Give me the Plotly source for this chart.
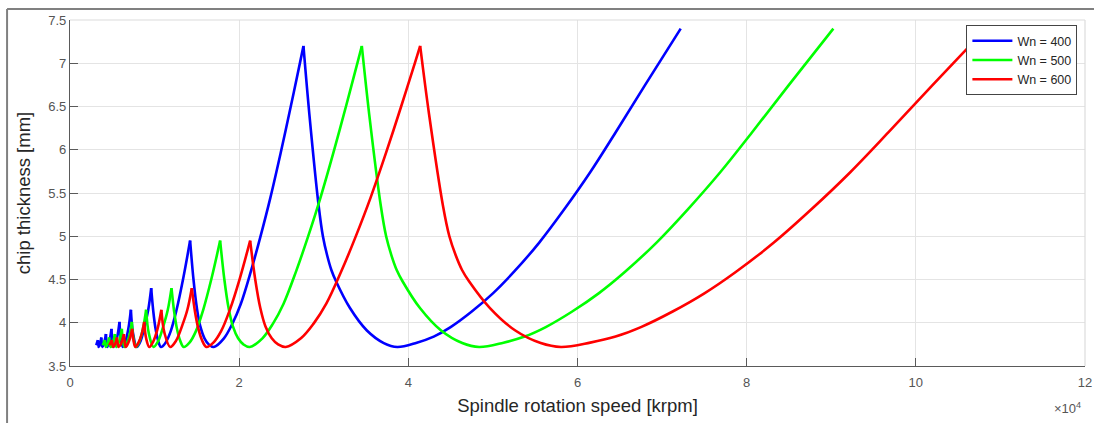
import plotly.graph_objects as go

# ---------------- data ----------------
# spindle speed in units of 10^4 rpm, chip thickness in mm
# each inner list is one stability lobe (cusp -> minimum -> cusp)
series_names = ["Wn = 400", "Wn = 500", "Wn = 600"]
series_colors = ["#0000FF", "#00FF00", "#FF0000"]

blue_speed = [
    [0.31, 0.33],
    [0.33, 0.335, 0.34, 0.355, 0.37],
    [0.37, 0.376, 0.383, 0.40, 0.425],
    [0.425, 0.432, 0.44, 0.46, 0.475, 0.49],
    [0.49, 0.50, 0.515, 0.54, 0.565, 0.585],
    [0.585, 0.60, 0.625, 0.655, 0.69, 0.72],
    [0.72, 0.745, 0.79, 0.835, 0.885, 0.925, 0.96],
    [0.96, 0.985, 1.01, 1.04, 1.075, 1.13, 1.19, 1.26, 1.34, 1.42],
    [1.42, 1.46, 1.50, 1.54, 1.59, 1.64, 1.70, 1.82, 1.92, 2.02, 2.14, 2.25, 2.37, 2.49, 2.61,
     2.72, 2.76],
    [2.76, 2.83, 2.94, 2.99, 3.04, 3.09, 3.145, 3.31, 3.51, 3.71, 3.87, 4.10, 4.30, 4.50, 4.75,
     5.00, 5.25, 5.55, 5.85, 6.15, 6.45, 6.80, 7.22],
]
green_speed = [
    [0.3875, 0.4125],
    [0.4125, 0.41875, 0.425, 0.44375, 0.4625],
    [0.4625, 0.47, 0.47875, 0.50, 0.53125],
    [0.53125, 0.54, 0.55, 0.575, 0.59375, 0.6125],
    [0.6125, 0.625, 0.64375, 0.675, 0.70625, 0.73125],
    [0.73125, 0.75, 0.78125, 0.81875, 0.8625, 0.90],
    [0.90, 0.93125, 0.9875, 1.04375, 1.10625, 1.15625, 1.20],
    [1.20, 1.23125, 1.2625, 1.30, 1.34375, 1.4125, 1.4875, 1.575, 1.675, 1.775],
    [1.775, 1.825, 1.875, 1.925, 1.9875, 2.05, 2.125, 2.275, 2.40, 2.525, 2.675, 2.8125, 2.9625,
     3.1125, 3.2625, 3.40, 3.45],
    [3.45, 3.5375, 3.675, 3.7375, 3.80, 3.8625, 3.93125, 4.1375, 4.3875, 4.6375, 4.8375, 5.125,
     5.375, 5.625, 5.9375, 6.25, 6.5625, 6.9375, 7.3125, 7.6875, 8.0625, 8.50, 9.025],
]
red_speed = [
    [0.465, 0.495],
    [0.495, 0.5025, 0.51, 0.5325, 0.555],
    [0.555, 0.564, 0.5745, 0.60, 0.6375],
    [0.6375, 0.648, 0.66, 0.69, 0.7125, 0.735],
    [0.735, 0.75, 0.7725, 0.81, 0.8475, 0.8775],
    [0.8775, 0.90, 0.9375, 0.9825, 1.035, 1.08],
    [1.08, 1.1175, 1.185, 1.2525, 1.3275, 1.3875, 1.44],
    [1.44, 1.4775, 1.515, 1.56, 1.6125, 1.695, 1.785, 1.89, 2.01, 2.13],
    [2.13, 2.19, 2.25, 2.31, 2.385, 2.46, 2.55, 2.73, 2.88, 3.03, 3.21, 3.375, 3.555, 3.735,
     3.915, 4.08, 4.14],
    [4.14, 4.245, 4.41, 4.485, 4.56, 4.635, 4.7175, 4.965, 5.265, 5.565, 5.805, 6.15, 6.45, 6.75,
     7.125, 7.50, 7.875, 8.325, 8.775, 9.225, 9.675, 10.20, 10.83],
]
# chip thickness along each lobe (the other two trace the same levels)
blue_thick = [
    [3.74, 3.80],
    [3.80, 3.75, 3.72, 3.75, 3.83],
    [3.83, 3.76, 3.72, 3.75, 3.87],
    [3.87, 3.77, 3.72, 3.77, 3.83, 3.93],
    [3.93, 3.80, 3.72, 3.77, 3.87, 4.01],
    [4.01, 3.82, 3.72, 3.78, 3.93, 4.15],
    [4.15, 3.88, 3.72, 3.79, 3.97, 4.15, 4.40],
    [4.40, 4.13, 3.94, 3.80, 3.72, 3.77, 3.90, 4.15, 4.52, 4.95],
    [4.95, 4.50, 4.17, 3.96, 3.82, 3.75, 3.72, 3.82, 3.99, 4.22, 4.60, 4.99, 5.45, 5.96, 6.50,
     7.01, 7.20],
    [7.20, 6.41, 5.35, 5.00, 4.78, 4.61, 4.48, 4.17, 3.91, 3.765, 3.72, 3.77, 3.84, 3.95, 4.13,
     4.34, 4.59, 4.93, 5.32, 5.74, 6.20, 6.75, 7.40],
]
green_thick = [list(l) for l in blue_thick]
red_thick = [list(l) for l in blue_thick]

x_tick_vals = [0, 2, 4, 6, 8, 10, 12]
x_tick_text = ["0", "2", "4", "6", "8", "10", "12"]
y_tick_vals = [3.5, 4, 4.5, 5, 5.5, 6, 6.5, 7, 7.5]
y_tick_text = ["3.5", "4", "4.5", "5", "5.5", "6", "6.5", "7", "7.5"]


def join(lobes):
    out = []
    for i, seg in enumerate(lobes):
        if i:
            out.append(None)
        out.extend(seg)
    return out


FONT = "Liberation Sans, Arial, Helvetica, sans-serif"
fig = go.Figure()
for name, col, xs, ys in zip(series_names, series_colors,
                             [blue_speed, green_speed, red_speed],
                             [blue_thick, green_thick, red_thick]):
    fig.add_trace(go.Scatter(
        x=join(xs), y=join(ys), mode="lines", name=name,
        line=dict(color=col, width=2.6, shape="spline", smoothing=1.0),
        connectgaps=False,
    ))

axis_common = dict(
    showgrid=True, gridcolor="#e4e4e4", gridwidth=1,
    showline=True, linecolor="#5a5a5a", linewidth=1.3,
    ticks="inside", ticklen=8, tickcolor="#5a5a5a", tickwidth=1.2,
    zeroline=False, tickfont=dict(family=FONT, size=13, color="#555555"),
)
fig.update_layout(
    width=1094, height=423,
    margin=dict(l=70, r=9, t=20, b=57, autoexpand=False),
    paper_bgcolor="white", plot_bgcolor="white",
    font=dict(family=FONT),
    xaxis=dict(range=[0, 12], tickvals=x_tick_vals, ticktext=x_tick_text,
               ticklabelstandoff=4,
               title=dict(text="Spindle rotation speed [krpm]",
                          font=dict(family=FONT, size=18.5, color="#262626"), standoff=10),
               **axis_common),
    yaxis=dict(range=[3.5, 7.5], tickvals=y_tick_vals, ticktext=y_tick_text,
               title=dict(text="chip thickness [mm]",
                          font=dict(family=FONT, size=18.5, color="#262626"), standoff=12),
               **axis_common),
    legend=dict(x=0.9925, xanchor="right", y=0.985, yanchor="top",
                bgcolor="white", bordercolor="#444444", borderwidth=1,
                font=dict(family=FONT, size=12.5, color="#262626"),
                tracegroupgap=0, itemwidth=40),
    showlegend=True,
    shapes=[
        # light top / right box edges
        dict(type="line", xref="paper", yref="paper", x0=0, x1=1, y0=1, y1=1,
             line=dict(color="#dcdcdc", width=1.2)),
        dict(type="line", xref="paper", yref="paper", x0=1, x1=1, y0=0, y1=1,
             line=dict(color="#dcdcdc", width=1.2)),
        # outer frame of the picture
        dict(type="line", xref="paper", yref="paper", x0=-0.062, x1=-0.062, y0=-0.2, y1=1.032,
             line=dict(color="#808080", width=2)),
        dict(type="line", xref="paper", yref="paper", x0=-0.062, x1=1.02, y0=1.032, y1=1.032,
             line=dict(color="#808080", width=2)),
    ],
    annotations=[
        dict(text="×10<sup>4</sup>", xref="paper", yref="paper", x=0.983, y=-0.121,
             xanchor="center", yanchor="middle", showarrow=False,
             font=dict(family=FONT, size=13, color="#555555")),
    ],
)

fig.write_html("out.html", config={"displayModeBar": False},
               post_script="document.body.style.margin='0';document.body.style.overflow='hidden';")
